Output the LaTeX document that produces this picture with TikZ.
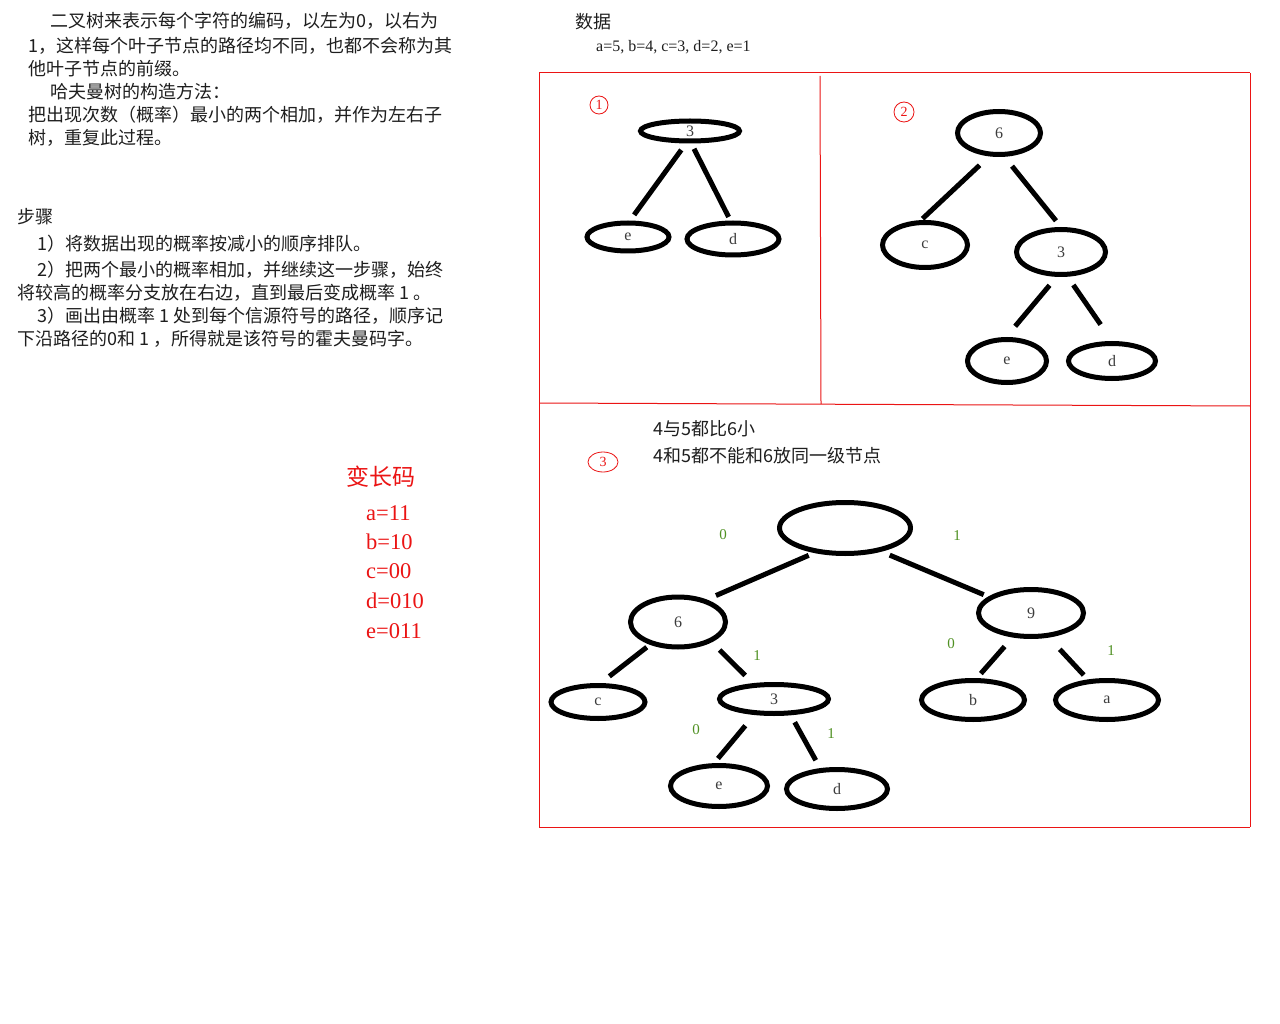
\documentclass[tikz,border=0pt]{standalone}
\usepackage{fontspec}
\setmainfont{Liberation Serif}
\newfontfamily\cjk{Noto Sans CJK SC}
\usetikzlibrary{shapes.geometric}
\definecolor{txtc}{RGB}{30,30,30}
\definecolor{lblc}{RGB}{60,60,60}
\definecolor{grn}{RGB}{80,145,35}
\definecolor{rd}{RGB}{235,20,20}
\tikzset{
  ell/.style={draw, ellipse, line width=5pt, inner sep=0pt, text=lblc,
    font=\fontsize{16}{16}\selectfont},
  edge/.style={line width=5pt},
  txt/.style={anchor=base west, inner sep=0pt, text=txtc,
    font=\cjk\fontsize{18}{20}\selectfont},
  lat/.style={anchor=base west, inner sep=0pt, text=txtc,
    font=\fontsize{16}{18}\selectfont},
  glab/.style={inner sep=0pt, text=grn, font=\fontsize{15}{15}\selectfont},
  code/.style={anchor=base west, inner sep=0pt, text=rd,
    font=\fontsize{22.5}{22}\selectfont},
  frame/.style={draw=rd, line width=1pt},
  numc/.style={draw=rd, line width=0.8pt, text=rd, inner sep=0pt,
    font=\fontsize{14}{14}\selectfont}
}
\begin{document}
\begin{tikzpicture}[x=1pt,y=-1pt]
\useasboundingbox[fill=white] (0,0) rectangle (1280,1024);

% left text
\node[txt] (l1) at (50,27.6) {二叉树来表示每个字符的编码，以左为0，以右为};
\node[txt] (l2) at (28,52.6) {1，这样每个叶子节点的路径均不同，也都不会称为其};
\node[txt] (l3) at (28,75.6) {他叶子节点的前缀。};
\node[txt] (l4) at (50,98.6) {哈夫曼树的构造方法：};
\node[txt] (l5) at (28,121.6) {把出现次数（概率）最小的两个相加，并作为左右子};
\node[txt] (l6) at (28,144.6) {树，重复此过程。};

\node[txt] (s0) at (17,223.6) {步骤};
\node[txt] (s1) at (37,250.6) {1）将数据出现的概率按减小的顺序排队。};
\node[txt] (s2) at (37,276.6) {2）把两个最小的概率相加，并继续这一步骤，始终};
\node[txt] (s3) at (17,299.6) {将较高的概率分支放在右边，直到最后变成概率 1 。};
\node[txt] (s4) at (37,322.6) {3）画出由概率 1 处到每个信源符号的路径，顺序记};
\node[txt] (s5) at (17,345.6) {下沿路径的0和 1 ，所得就是该符号的霍夫曼码字。};

% data
\node[txt] (dt) at (575,28.6) {数据};
\node[lat] (dv) at (596,52) {a=5, b=4, c=3, d=2, e=1};

% red code list
\node[anchor=base west, inner sep=0pt, text=rd, font=\cjk\fontsize{23}{23}\selectfont] (vl) at (346,485) {变长码};
\node[code] (ca) at (366,520) {a=11};
\node[code] (cb) at (366,549) {b=10};
\node[code] (cc) at (366,578) {c=00};
\node[code] (cd) at (366,608) {d=010};
\node[code] (ce) at (366,638) {e=011};

% frames
\draw[frame] (539,73) -- (1250,73);
\draw[frame] (539,73) -- (539,827);
\draw[frame] (1250,73) -- (1250,827);
\draw[frame] (539,827) -- (1250,827);
\draw[frame] (820,76) -- (821,404);
\draw[frame] (539,403) -- (1250,406);

% circled numbers
\node[numc, circle, minimum size=18pt] (c1) at (599,105) {1};
\node[numc, circle, minimum size=20pt] (c2) at (904,112) {2};
\node[numc, ellipse, minimum width=30pt, minimum height=20pt] (c3) at (603,462) {3};

% box 3 text
\node[txt] (b3a) at (653,435.6) {4与5都比6小};
\node[txt] (b3b) at (653,462.6) {4和5都不能和6放同一级节点};

% tree 1
\node[ell, minimum width=99pt, minimum height=20pt] (t1r) at (690,131) {3};
\node[ell, minimum width=82pt, minimum height=28pt] (t1e) at (628,237) {e};
\node[ell, minimum width=92pt, minimum height=32pt] (t1d) at (733,239) {d};
\draw[edge, shorten <=8pt, shorten >=7pt] (t1r.252) -- (t1e.83);
\draw[edge, shorten <=6pt, shorten >=4pt] (t1r.276) -- (t1d.98);

% tree 2
\node[ell, minimum width=83pt, minimum height=43pt] (t2r) at (999,133) {6};
\node[ell, minimum width=85pt, minimum height=45pt] (t2c) at (925,245) {c};
\node[ell, minimum width=89pt, minimum height=45pt] (t2t) at (1061,252) {3};
\node[ell, minimum width=79pt, minimum height=43pt] (t2e) at (1007,361) {e};
\node[ell, minimum width=87pt, minimum height=35pt] (t2d) at (1112,361) {d};
\draw[edge, shorten <=13pt, shorten >=2pt] (t2r.247) -- (t2c.99);
\draw[edge, shorten <=12pt, shorten >=8pt] (t2r.283) -- (t2t.90);
\draw[edge, shorten <=11pt, shorten >=14pt] (t2t.260) -- (t2e.92);
\draw[edge, shorten <=10pt, shorten >=20pt] (t2t.285) -- (t2d.90);

% tree 3
\node[ell, minimum width=131pt, minimum height=51pt] (r) at (845,528) {};
\node[ell, minimum width=95pt, minimum height=50pt] (n6) at (678,622) {6};
\node[ell, minimum width=105pt, minimum height=47pt] (n9) at (1031,613) {9};
\node[ell, minimum width=94pt, minimum height=33pt] (nc) at (598,702) {c};
\node[ell, minimum width=109pt, minimum height=29pt] (n3) at (774,699) {3};
\node[ell, minimum width=103pt, minimum height=39pt] (nb) at (973,700) {b};
\node[ell, minimum width=103pt, minimum height=39pt] (na) at (1107,700) {a};
\node[ell, minimum width=97pt, minimum height=41pt] (ne) at (719,786) {e};
\node[ell, minimum width=101pt, minimum height=39pt] (nd) at (837,789) {d};
\draw[edge, shorten <=6pt, shorten >=10pt] (r.219) -- (n6.38);
\draw[edge, shorten <=9pt, shorten >=5pt] (r.327) -- (n9.159);
\draw[edge, shorten <=4pt, shorten >=11pt] (n6.219) -- (nc.82);
\draw[edge, shorten <=11pt, shorten >=11pt] (n6.329) -- (n3.143);
\draw[edge, shorten <=12pt, shorten >=6pt] (n9.233) -- (nb.80);
\draw[edge, shorten <=16pt, shorten >=6pt] (n9.306) -- (na.133);
\draw[edge, shorten <=14pt, shorten >=6pt] (n3.219) -- (ne.102);
\draw[edge, shorten <=8pt, shorten >=9pt] (n3.316) -- (nd.129);

% edge labels
\node[glab] (g1) at (723,535) {0};
\node[glab] (g2) at (957,536) {1};
\node[glab] (g3) at (757,656) {1};
\node[glab] (g4) at (951,644) {0};
\node[glab] (g5) at (1111,651) {1};
\node[glab] (g6) at (696,730) {0};
\node[glab] (g7) at (831,734) {1};
\end{tikzpicture}
\end{document}
